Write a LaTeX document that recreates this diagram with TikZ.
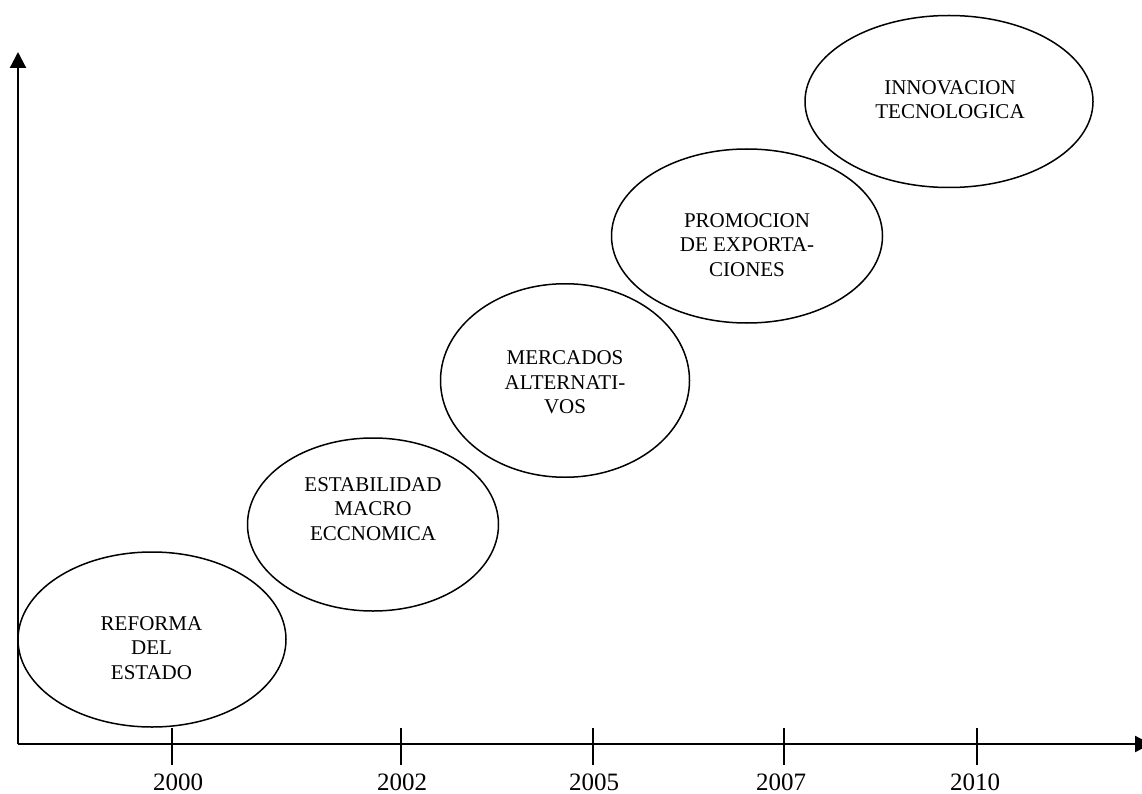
\documentclass[tikz,border=0pt]{standalone}
\usepackage{fontspec}
\setmainfont{Liberation Serif}
\usetikzlibrary{shapes.geometric,arrows.meta}
\tikzset{
	hito/.style={draw,ellipse,line width=1.5pt,inner sep=0pt},
	texto/.style={align=center,font=\fontsize{21}{24.5}\selectfont},
	anio/.style={anchor=base,font=\fontsize{25}{30}\selectfont},
	eje/.style={line width=2.2pt},
	flecha/.style={-{Triangle[length=16pt,width=16pt]}}
}
\begin{document}
\begin{tikzpicture}[x=1pt,y=-1pt]
		\useasboundingbox (0,0) rectangle (1142,794);
		\coordinate (origen) at (18,744);
		\coordinate (ytope) at (18,52);
		\coordinate (xfin) at (1151,744);
		\draw[eje,flecha] (origen) -- (ytope);
		\draw[eje,flecha] (origen) -- (xfin);
		\foreach \x/\lx/\yr in {171.7/178/2000,400.7/402/2002,592.7/594/2005,784.3/781/2007,976.7/975/2010} {
			\draw[eje] (\x,728) -- (\x,765);
			\node[anio] (a\yr) at (\lx,790) {\yr};
		};

		\node[hito,minimum width=268pt,minimum height=175pt] (reforma) at (152,639.5) {};
		\node[hito,minimum width=251pt,minimum height=173pt] (estabilidad) at (373,524.5) {};
		\node[hito,minimum width=249pt,minimum height=193.5pt] (mercados) at (565,380.5) {};
		\node[hito,minimum width=271pt,minimum height=174pt] (promocion) at (747,236) {};
		\node[hito,minimum width=288pt,minimum height=172pt] (innovacion) at (949,101.5) {};

		\node[texto] (treforma) at (151.5,648) {REFORMA\\DEL\\ESTADO};
		\node[texto] (testabilidad) at (373,509) {ESTABILIDAD\\MACRO\\ECCNOMICA};
		\node[texto] (tmercados) at (565,382.5) {MERCADOS\\ALTERNATI-\\VOS};
		\node[texto] (tpromocion) at (747,245) {PROMOCION\\DE EXPORTA-\\CIONES};
		\node[texto] (tinnovacion) at (950,99.5) {INNOVACION\\TECNOLOGICA};
\end{tikzpicture}
\end{document}
